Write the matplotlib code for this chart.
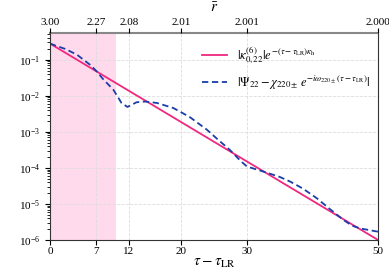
import matplotlib
matplotlib.use("Agg")
import matplotlib.pyplot as plt
import numpy as np

plt.rcParams['font.family'] = ['Liberation Serif', 'DejaVu Serif']
plt.rcParams['mathtext.fontset'] = 'stix'

# Data
red_t = [0, 50]
red_vals = [0.28, 1.0e-6]

blue_t = [0, 1, 2.3, 4.1, 6.1, 7.1, 8.1, 9.65, 10.9, 11.8, 13.2, 14.5, 16.3,
          18.8, 21.3, 23.9, 25.5, 27.4, 29, 30, 31.75, 33, 35, 36.6, 38.5,
          40.65, 42.5, 44.7, 46, 47.3, 50]
blue_log = [-0.55, -0.62, -0.70, -0.86, -1.14, -1.32, -1.54, -1.83, -2.2, -2.31,
            -2.18, -2.16, -2.2, -2.34, -2.59, -2.94, -3.2, -3.5, -3.8, -3.96,
            -4.06, -4.13, -4.25, -4.38, -4.57, -4.84, -5.12, -5.44, -5.6, -5.68,
            -5.77]
blue_vals = [10.0 ** v for v in blue_log]

bottom_ticks = [0, 7, 12, 20, 30, 50]
top_labels = ['3.00', '2.27', '2.08', '2.01', '2.001', '2.000']
shade_range = [0, 10]

fig = plt.figure(figsize=(3.89, 2.72), dpi=100)
ax = fig.add_axes([0.1285, 0.1176, 0.8435, 0.7611])

ax.axvspan(shade_range[0], shade_range[1], color='#ffd9ec', zorder=0, lw=0)
ax.plot(red_t, red_vals, color='#f0287f', lw=1.3,
        label=r'$|\kappa^{(6)}_{0,22}|e^{-(\tau-\tau_{\rm LR})\kappa_{\rm h}}$')
ax.plot(blue_t, blue_vals, color='#1a3ea8', lw=1.3, ls='--', dashes=(3.5, 2),
        label=r'$|\Psi_{22}-\chi_{220\pm}\,e^{-i\omega_{220\pm}(\tau-\tau_{\rm LR})}|$')

ax.set_yscale('log')
ax.set_xlim(0, 50)
ax.set_ylim(1e-6, 0.55)
ax.set_xticks(bottom_ticks)
ax.tick_params(labelsize=8)
ax.tick_params(axis='x', pad=1.5)
ax.grid(True, which='major', ls='--', color='#dddddd', lw=0.6)
ax.set_xlabel(r'$\tau-\tau_{\rm LR}$', fontsize=11, labelpad=1)

for s in ax.spines.values():
    s.set_color('#333333')
ax.spines['top'].set_color('#888888')
ax.spines['top'].set_linewidth(1.5)

top = ax.twiny()
top.set_xlim(0, 50)
top.set_xticks(bottom_ticks)
top.set_xticklabels(top_labels)
top.tick_params(labelsize=8, pad=1)
top.set_xlabel(r'$\bar{r}$', fontsize=11, labelpad=4)
for s in top.spines.values():
    s.set_visible(False)

leg = ax.legend(loc='upper right', frameon=False, fontsize=9, handlelength=2.0,
                bbox_to_anchor=(1.01, 1.0), labelspacing=0.6)

fig.savefig('out.png', dpi=100)
